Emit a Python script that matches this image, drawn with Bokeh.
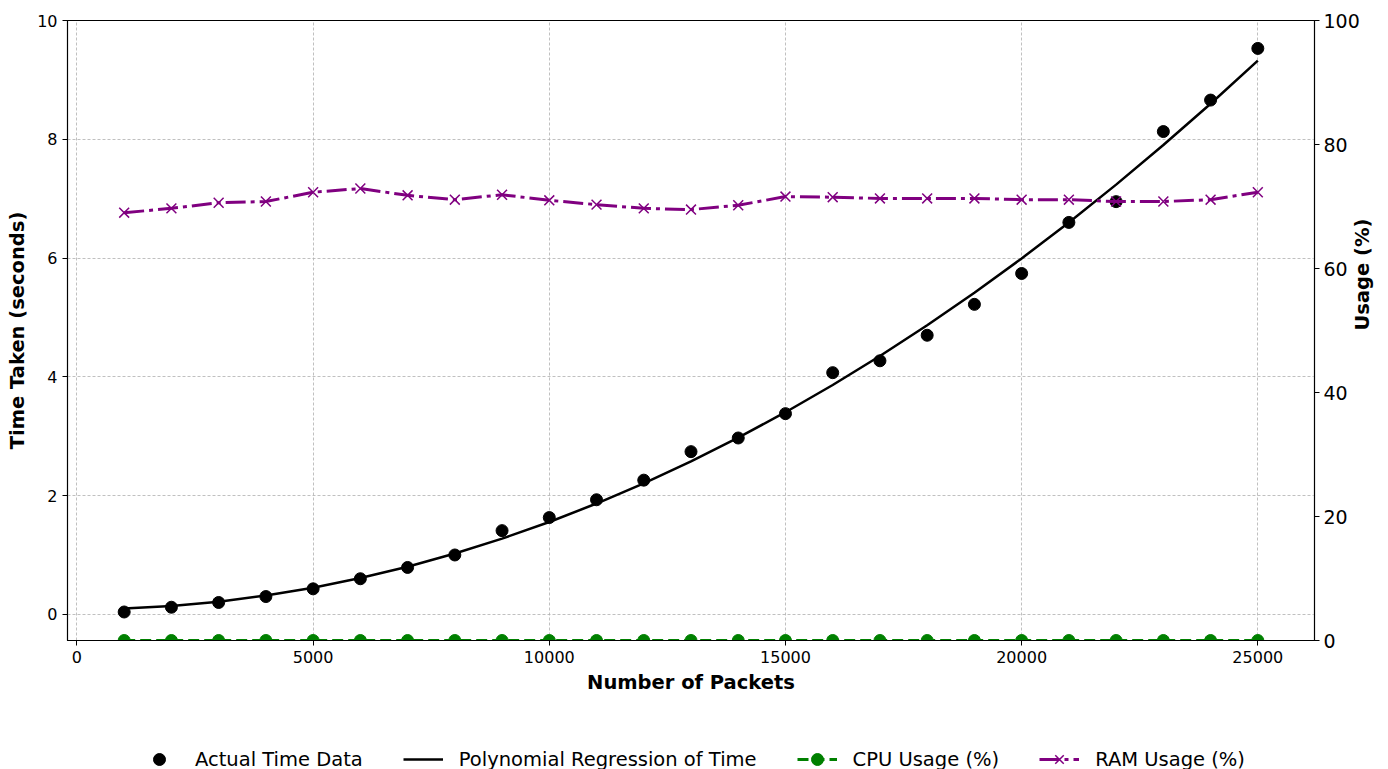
import math
import numpy as np
from bokeh.plotting import figure
from bokeh.layouts import column
from bokeh.models import Range1d, LinearAxis, FixedTicker, Legend, LegendItem
from bokeh.embed import file_html
from bokeh.resources import INLINE

packets = [1000, 2000, 3000, 4000, 5000, 6000, 7000, 8000, 9000, 10000,
           11000, 12000, 13000, 14000, 15000, 16000, 17000, 18000, 19000, 20000,
           21000, 22000, 23000, 24000, 25000]
time_taken = [0.04, 0.12, 0.20, 0.30, 0.43, 0.60, 0.79, 1.00, 1.41, 1.63,
              1.93, 2.26, 2.74, 2.97, 3.38, 4.07, 4.27, 4.70, 5.22, 5.74,
              6.60, 6.95, 8.13, 8.66, 9.53]
cpu_usage = [0.0, 0.0, 0.0, 0.0, 0.0, 0.0, 0.0, 0.0, 0.0, 0.0,
             0.0, 0.0, 0.0, 0.0, 0.0, 0.0, 0.0, 0.0, 0.0, 0.0,
             0.0, 0.0, 0.0, 0.0, 0.0]
ram_usage = [69.0, 69.7, 70.6, 70.8, 72.3, 72.9, 71.8, 71.1, 71.9, 71.0,
             70.3, 69.7, 69.5, 70.2, 71.6, 71.5, 71.3, 71.3, 71.3, 71.1,
             71.1, 70.8, 70.8, 71.1, 72.3]
x_ticks = [0, 5000, 10000, 15000, 20000, 25000]
time_ticks = [0, 2, 4, 6, 8, 10]
usage_ticks = [0, 20, 40, 60, 80, 100]
legend_labels = ["Actual Time Data", "Polynomial Regression of Time",
                 "CPU Usage (%)", "RAM Usage (%)"]

# degree-2 polynomial regression of the time data
coef = np.polyfit(packets, time_taken, 2)
time_fit = list(np.polyval(coef, packets))

FONT = "DejaVu Sans"
W = 1388
H_MAIN = 709
H_LEG = 60

p = figure(width=W, height=H_MAIN, output_backend="svg", toolbar_location=None,
           x_range=Range1d(-200, 26200), y_range=Range1d(-0.44, 10.0),
           min_border_left=67, min_border_right=72, min_border_top=20,
           min_border_bottom=69)
p.extra_y_ranges = {"usage": Range1d(0, 100)}
p.outline_line_color = "black"
p.outline_line_width = 1.2
p.outline_line_alpha = 1.0

right_axis = LinearAxis(y_range_name="usage")
p.add_layout(right_axis, "right")

p.xaxis.ticker = FixedTicker(ticks=x_ticks)
p.yaxis[0].ticker = FixedTicker(ticks=time_ticks)
right_axis.ticker = FixedTicker(ticks=usage_ticks)

p.xaxis.axis_label = "Number of Packets"
p.yaxis[0].axis_label = "Time Taken (seconds)"
right_axis.axis_label = "Usage (%)"

for ax in [p.xaxis[0], p.yaxis[0], right_axis]:
    ax.axis_label_text_font = FONT
    ax.axis_label_text_font_style = "bold"
    ax.axis_label_text_font_size = "19.5px"
    ax.axis_label_text_color = "black"
    ax.major_label_text_font = FONT
    ax.major_label_text_color = "black"
    ax.major_label_text_font_size = "16px"
    ax.major_tick_out = 5
    ax.major_tick_in = 0
    ax.minor_tick_out = 0
    ax.minor_tick_in = 0
    ax.axis_line_color = "black"
    ax.major_tick_line_color = "black"
    ax.major_label_standoff = 5
    ax.axis_label_standoff = 5

right_axis.major_label_text_font_size = "19px"
right_axis.major_label_standoff = 4
right_axis.axis_label_standoff = 0
right_axis.axis_label_orientation = math.pi / 2

for g in [p.xgrid[0], p.ygrid[0]]:
    g.grid_line_color = "#b0b0b0"
    g.grid_line_dash = "3 2"
    g.grid_line_width = 0.8

# styles
scat_style = dict(size=12, color="black")
fit_style = dict(line_width=2.5, color="black")
cpu_line_style = dict(color="green", line_width=3, line_dash="11 5")
cpu_pt_style = dict(size=12, color="green")
ram_line_style = dict(color="purple", line_width=3, line_dash="20 5 4 5")
ram_pt_style = dict(marker="x", size=14, line_color="purple", line_width=1.5)

p.scatter(packets, time_taken, **scat_style)
p.line(packets, time_fit, **fit_style)
p.line(packets, cpu_usage, y_range_name="usage", **cpu_line_style)
p.scatter(packets, cpu_usage, y_range_name="usage", **cpu_pt_style)
p.line(packets, ram_usage, y_range_name="usage", **ram_line_style)
p.scatter(packets, ram_usage, y_range_name="usage", **ram_pt_style)

# legend strip below the chart; its renderers carry the same series but
# lie outside this strip's view, so only the legend entries show.
pl = figure(width=W, height=H_LEG, output_backend="svg", toolbar_location=None,
            x_range=Range1d(-3, -2), y_range=Range1d(-3, -2),
            x_axis_type=None, y_axis_type=None, min_border=0)
pl.outline_line_color = None
pl.xgrid.visible = False
pl.ygrid.visible = False
l_scat = pl.scatter(packets, time_taken, **scat_style)
l_fit = pl.line(packets, time_fit, **fit_style)
l_cpu_line = pl.line(packets, cpu_usage, **cpu_line_style)
l_cpu_pt = pl.scatter(packets, cpu_usage, **cpu_pt_style)
l_ram_line = pl.line(packets, ram_usage, **ram_line_style)
l_ram_pt = pl.scatter(packets, ram_usage, **ram_pt_style)

legend = Legend(items=[
    LegendItem(label=legend_labels[0], renderers=[l_scat]),
    LegendItem(label=legend_labels[1], renderers=[l_fit]),
    LegendItem(label=legend_labels[2], renderers=[l_cpu_line, l_cpu_pt]),
    LegendItem(label=legend_labels[3], renderers=[l_ram_line, l_ram_pt]),
], location=(72, -5), orientation="horizontal", glyph_width=40,
    glyph_height=30, label_standoff=16, spacing=40, padding=0, margin=0,
    border_line_alpha=0, background_fill_alpha=0,
    label_text_font=FONT, label_text_font_size="19.5px",
    label_text_color="black")
pl.add_layout(legend)

layout = column(p, pl, spacing=0)
open("out.html", "w").write(file_html(layout, INLINE))
